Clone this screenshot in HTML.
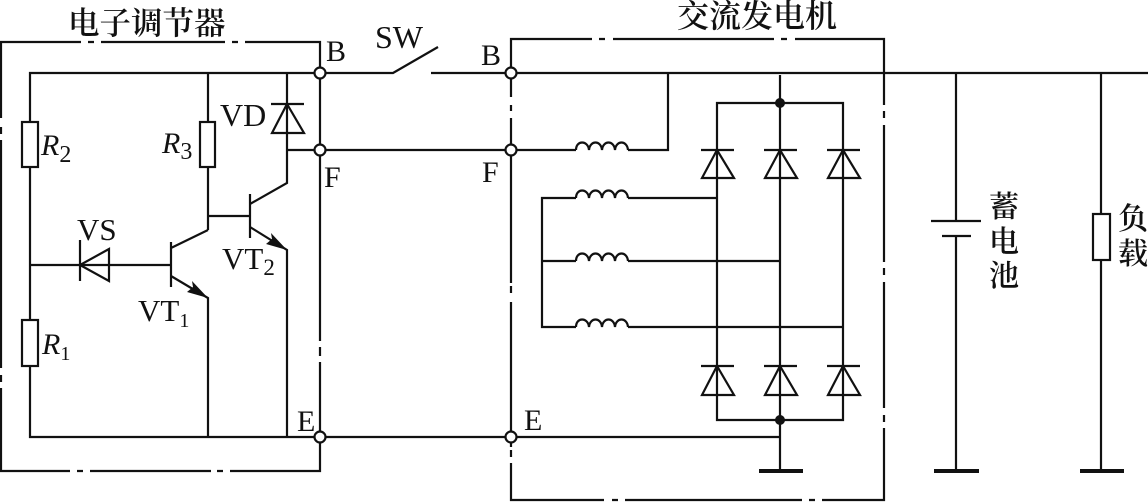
<!DOCTYPE html>
<html><head><meta charset="utf-8"><style>
html,body{margin:0;padding:0;background:#fff}
svg{display:block}
text{font-family:"Liberation Serif","Noto Serif CJK SC",serif;fill:#111}
.c{font-family:"Noto Serif CJK SC","Liberation Serif",serif;font-weight:600}
</style></head><body>
<svg width="1148" height="502" viewBox="0 0 1148 502" xmlns="http://www.w3.org/2000/svg">
<rect width="1148" height="502" fill="#fff"/>
<g fill="none" stroke="#111" stroke-width="2.2" stroke-linejoin="miter">
<!-- left box -->
<path d="M1 118V42H81M88 42h6M101 42H225M232 42h6M245 42H320V341M320 347v9M320 362V471H230M223 471h-6M211 471H90M83 471h-6M70 471H1V388M1 382v-7M1 368V140M1 134v-7"/>
<!-- right box -->
<path d="M511 97V39H592M599 39h6M613 39H774M781 39h6M795 39H884V105M884 111v7M884 125V262M884 268v7M884 282V408M884 415v7M884 428V500H822M815 500h-6M802 500H625M618 500h-6M604 500H511V463M511 457v-7M511 447V302M511 293v-7M511 283V118M511 111v-6"/>
<!-- wires -->
<path d="M320 73H30V437H780"/>
<path d="M320 73H393L438 47M431 73H1148"/>
<path d="M208 73V230M208 216H250M250 194V238M250 204L287 183V73M287 150H576M628 150H668V73"/>
<path d="M250 227L287 250V437"/>
<path d="M171 242V287M171 248L208 230M171 276L208 298V437M30 265H171"/>
<path d="M80 240V281M109 249L80 265L109 281Z"/>
<path d="M271 104H304M287 104L272 133H304Z"/>
<!-- coils -->
<path d="M576 150c0-10 12-10 13 0c1-10 12-10 13 0c1-10 12-10 13 0c1-10 12-10 13 0"/>
<path d="M576 198c0-10 12-10 13 0c1-10 12-10 13 0c1-10 12-10 13 0c1-10 12-10 13 0"/>
<path d="M576 261c0-10 12-10 13 0c1-10 12-10 13 0c1-10 12-10 13 0c1-10 12-10 13 0"/>
<path d="M576 327c0-10 12-10 13 0c1-10 12-10 13 0c1-10 12-10 13 0c1-10 12-10 13 0"/>
<path d="M576 198H542V327H576M628 198H717M576 261H542M628 261H780M628 327H843"/>
<!-- rectifier -->
<path d="M717 420V103H843V420ZM780 75V470"/>
<path d="M701 150H734M717 150L702 178H734ZM764 150H797M780 150L765 178H797ZM827 150H860M843 150L828 178H860Z"/>
<path d="M701 366H734M717 366L702 395H734ZM764 366H797M780 366L765 395H797ZM827 366H860M843 366L828 395H860Z"/>
<!-- battery and load -->
<path d="M956 73V221M956 236V471M1101 73V214M1101 260V471"/>
<path d="M931 221H981M942 236H971"/>
</g>
<g fill="none" stroke="#111" stroke-width="4">
<path d="M759 471H803M934 471H979M1080 471H1124"/>
</g>
<!-- resistors -->
<g fill="#fff" stroke="#111" stroke-width="2.2">
<rect x="22" y="122" width="16" height="45"/>
<rect x="22" y="320" width="16" height="46"/>
<rect x="200" y="122" width="15" height="45"/>
<rect x="1093" y="214" width="17" height="46"/>
<circle cx="320" cy="73" r="5.5"/>
<circle cx="320" cy="150" r="5.5"/>
<circle cx="320" cy="437" r="5.5"/>
<circle cx="511" cy="73" r="5.5"/>
<circle cx="511" cy="150" r="5.5"/>
<circle cx="511" cy="437" r="5.5"/>
</g>
<!-- dots and arrows -->
<g fill="#111" stroke="none">
<circle cx="780" cy="103" r="5"/>
<circle cx="780" cy="420" r="5"/>
<path d="M208 298L187 292L193 287L192 281Z"/>
<path d="M287 250L266 244L272 239L271 233Z"/>
</g>
<!-- labels -->
<g>
<text class="c" x="68" y="34" font-size="31.5">电子调节器</text>
<text class="c" x="677" y="27" font-size="32">交流发电机</text>
<text class="c" x="989" y="217" font-size="30">蓄</text>
<text class="c" x="989" y="252" font-size="30">电</text>
<text class="c" x="989" y="286" font-size="30">池</text>
<text class="c" x="1118" y="229" font-size="30">负</text>
<text class="c" x="1118" y="264" font-size="30">载</text>
</g>
<g font-size="30">
<text x="326" y="61">B</text>
<text x="481" y="65">B</text>
<text x="324" y="187">F</text>
<text x="482" y="182">F</text>
<text x="297" y="431">E</text>
<text x="524" y="430">E</text>
<text x="375" y="48" font-size="32">SW</text>
<text x="220" y="126" font-size="32">VD</text>
<text x="77" y="240" font-size="31">VS</text>
<text x="222" y="269" font-size="31">VT<tspan font-size="23" dy="6">2</tspan></text>
<text x="138" y="321" font-size="31">VT<tspan font-size="20" dy="6">1</tspan></text>
<text x="41" y="155" font-style="italic">R<tspan font-size="24" font-style="normal" dy="7">2</tspan></text>
<text x="162" y="153" font-style="italic">R<tspan font-size="24" font-style="normal" dy="6">3</tspan></text>
<text x="42" y="354" font-style="italic">R<tspan font-size="20" font-style="normal" dy="6">1</tspan></text>
</g>
</svg>
</body></html>
